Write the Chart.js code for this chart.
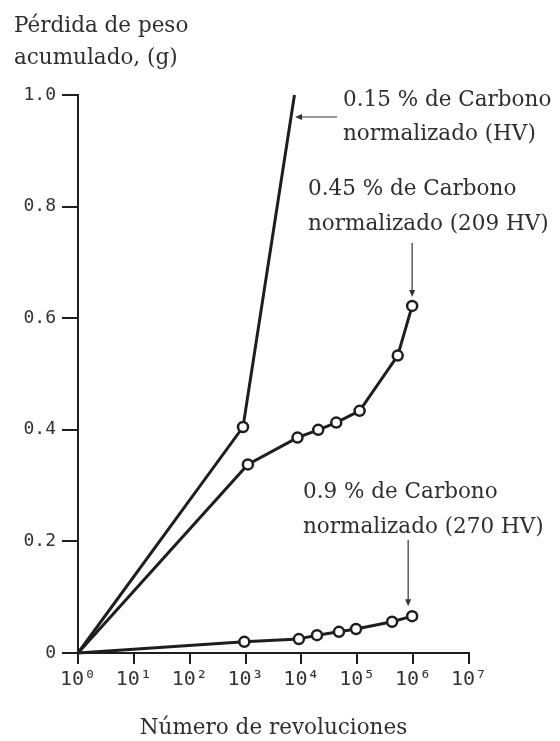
<!DOCTYPE html>
<html><head><meta charset="utf-8">
<script src="https://cdn.jsdelivr.net/npm/chart.js@4/dist/chart.umd.min.js"></script>
<style>html,body{margin:0;padding:0;background:#fff}#wrap{width:560px;height:741px}</style>
</head><body><div id="wrap"><canvas id="c" width="560" height="741"></canvas></div>
<script>
// ---- data ----
const xTickValues = [1, 10, 100, 1e3, 1e4, 1e5, 1e6, 1e7];
const xTickLabels = ['10⁰', '10¹', '10²', '10³', '10⁴', '10⁵', '10⁶', '10⁷'];
const yTickValues = [0, 0.2, 0.4, 0.6, 0.8, 1.0];
const yTickLabels = ['0', '0.2', '0.4', '0.6', '0.8', '1.0'];

const rev015 = [1, 900, 7500];
const loss015 = [0, 0.405, 1.0];
const rev045 = [1, 1100, 8500, 20000, 42000, 110000, 530000, 960000];
const loss045 = [0, 0.338, 0.386, 0.400, 0.413, 0.434, 0.533, 0.622];
const rev09 = [1, 950, 9000, 19000, 47000, 95000, 420000, 960000];
const loss09 = [0, 0.020, 0.025, 0.032, 0.038, 0.043, 0.056, 0.066];

const yTitle = ['Pérdida de peso', 'acumulado, (g)'];
const xTitle = 'Número de revoluciones';
const label015 = ['0.15 % de Carbono', 'normalizado (HV)'];
const label045 = ['0.45 % de Carbono', 'normalizado (209 HV)'];
const label09 = ['0.9 % de Carbono', 'normalizado (270 HV)'];

// ---- drawing ----
const SERIF = '"DejaVu Serif", "Liberation Serif", serif';
const MONO = '"DejaVu Sans Mono", "Liberation Mono", monospace';
const INK = '#1e1e1e';
const TEXT = '#2e2e2e';

function pts(xs, ys) { return xs.map((x, i) => ({x: x, y: ys[i]})); }

function arrow(ctx, x1, y1, x2, y2) {
  const a = Math.atan2(y2 - y1, x2 - x1);
  const L = 7, W = 3;
  ctx.beginPath();
  ctx.moveTo(x1, y1);
  ctx.lineTo(x2 - Math.cos(a) * (L - 1), y2 - Math.sin(a) * (L - 1));
  ctx.stroke();
  ctx.beginPath();
  ctx.moveTo(x2, y2);
  ctx.lineTo(x2 - Math.cos(a) * L - Math.sin(a) * W, y2 - Math.sin(a) * L + Math.cos(a) * W);
  ctx.lineTo(x2 - Math.cos(a) * L + Math.sin(a) * W, y2 - Math.sin(a) * L - Math.cos(a) * W);
  ctx.closePath();
  ctx.fill();
}

const annot = {
  id: 'annot',
  afterDraw(chart) {
    const ctx = chart.ctx, xs = chart.scales.x, ys = chart.scales.y;
    ctx.save();
    ctx.fillStyle = TEXT;
    ctx.font = '21.5px ' + SERIF;
    ctx.textAlign = 'left';
    ctx.textBaseline = 'alphabetic';
    yTitle.forEach((t, i) => ctx.fillText(t, 14, 32 + i * 32));
    label015.forEach((t, i) => ctx.fillText(t, 343, 106 + i * 34));
    label045.forEach((t, i) => ctx.fillText(t, 308, 195 + i * 35));
    label09.forEach((t, i) => ctx.fillText(t, 303, 498 + i * 35));

    ctx.strokeStyle = '#333';
    ctx.fillStyle = '#333';
    ctx.lineWidth = 1.2;
    // 0.15 % arrow: horizontal, pointing at the steep line
    const ay = 117;
    const p1x = xs.getPixelForValue(rev015[1]), p1y = ys.getPixelForValue(loss015[1]);
    const p2x = xs.getPixelForValue(rev015[2]), p2y = ys.getPixelForValue(loss015[2]);
    const lx = p1x + (ay - p1y) / (p2y - p1y) * (p2x - p1x);
    arrow(ctx, 337, ay, lx + 4, ay);
    // 0.45 % arrow: vertical, to last point
    const n45 = rev045.length - 1;
    const q45x = xs.getPixelForValue(rev045[n45]), q45y = ys.getPixelForValue(loss045[n45]);
    arrow(ctx, q45x, 243, q45x, q45y - 9);
    // 0.9 % arrow
    const n9 = rev09.length - 1;
    const q9x = xs.getPixelForValue(rev09[n9]), q9y = ys.getPixelForValue(loss09[n9]);
    arrow(ctx, q9x - 4, 540, q9x - 4, q9y - 10);
    ctx.restore();
  }
};

const radiusFn = (c) => {
  const last = c.dataset.data.length - 1;
  if (c.dataIndex === 0) return 0;
  if (c.datasetIndex === 0 && c.dataIndex === last) return 0;
  return 5;
};

const common = {
  borderColor: INK, borderWidth: 3, tension: 0, fill: false, clip: false,
  pointRadius: radiusFn, pointBorderWidth: 2.5, pointBorderColor: INK,
  pointBackgroundColor: '#fff'
};

new Chart(document.getElementById('c'), {
  type: 'line',
  data: {
    datasets: [
      Object.assign({label: label015.join(' '), data: pts(rev015, loss015)}, common),
      Object.assign({label: label045.join(' '), data: pts(rev045, loss045)}, common),
      Object.assign({label: label09.join(' '), data: pts(rev09, loss09)}, common)
    ]
  },
  options: {
    responsive: false,
    animation: false,
    devicePixelRatio: 1,
    layout: {padding: {top: 95, left: 0, right: 91, bottom: 0}},
    plugins: {legend: {display: false}, tooltip: {enabled: false}},
    scales: {
      x: {
        type: 'logarithmic', min: 1, max: 1e7,
        afterBuildTicks: (s) => { s.ticks = xTickValues.map(v => ({value: v})); },
        afterFit: (s) => { s.height = 88; },
        ticks: {
          autoSkip: false, maxRotation: 0, padding: 4,
          color: '#333', font: {family: MONO, size: 20},
          callback: (v, i) => xTickLabels[i]
        },
        grid: {drawOnChartArea: false, drawTicks: true, tickLength: 11, color: INK, lineWidth: 2},
        border: {display: true, color: INK, width: 2},
        title: {display: true, text: xTitle, color: TEXT, padding: 0,
                font: {family: SERIF, size: 21.5}}
      },
      y: {
        type: 'linear', min: 0, max: 1,
        afterBuildTicks: (s) => { s.ticks = yTickValues.map(v => ({value: v})); },
        afterFit: (s) => { s.width = 78; },
        ticks: {
          padding: 6, color: '#333', font: {family: MONO, size: 18},
          callback: (v, i) => yTickLabels[i]
        },
        grid: {drawOnChartArea: false, drawTicks: true, tickLength: 16, color: INK, lineWidth: 2},
        border: {display: true, color: INK, width: 2}
      }
    }
  },
  plugins: [annot]
});
</script>
</body></html>
